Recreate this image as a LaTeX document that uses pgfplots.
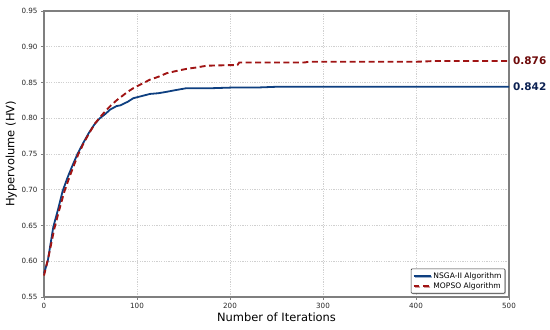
\documentclass[border=0pt]{standalone}
\usepackage{pgfplots}
\pgfplotsset{compat=1.18}
\usepackage{fontspec}
\setmainfont{DejaVu Sans}
\usetikzlibrary{shadows}
\definecolor{nsga}{HTML}{0E3F80}
\definecolor{mopso}{HTML}{A01414}
\definecolor{lblred}{HTML}{6E0A0A}
\definecolor{lblblue}{HTML}{0C2152}
\definecolor{frame}{HTML}{7F7F7F}
\definecolor{gridc}{HTML}{D0D0D0}
\begin{document}
\begin{tikzpicture}
\begin{axis}[
  name=ax,
  scale only axis,
  width=465bp, height=286bp,
  xmin=0, xmax=500, ymin=0.55, ymax=0.95,
  xtick={0,100,200,300,400,500},
  ytick={0.55,0.60,0.65,0.70,0.75,0.80,0.85,0.90,0.95},
  yticklabel style={/pgf/number format/.cd, fixed, fixed zerofill, precision=2},
  /pgf/number format/assume math mode=true,
  ticklabel style={font=\fontsize{7.2}{8}\selectfont, text=black!85},
  grid=major,
  major grid style={gridc, dash pattern=on 1.2pt off 1.2pt, line width=0.5pt},
  axis line style={frame, line width=1.5pt},
  tick style={frame, line width=0.8pt},
  tick align=outside, major tick length=3bp,
  xtick pos=bottom, ytick pos=left,
  xlabel={Number of Iterations},
  ylabel={Hypervolume (HV)},
  label style={font=\fontsize{11.5}{13}\selectfont},
  xlabel style={yshift=3bp},
  ylabel style={yshift=-2bp},
  clip=false,
  legend style={font=\fontsize{7.6}{9}\selectfont, draw=black!80, line width=0.6pt, rounded corners=1pt, drop shadow={shadow xshift=1pt, shadow yshift=-1pt, opacity=0.4}, fill=white, at={(0.992,0.012)}, anchor=south east, inner sep=1.5pt, row sep=-1pt},
  legend cell align=left,
]
\addplot[nsga, line width=1.8pt] coordinates {
(0,0.583) (4,0.600) (10,0.648) (15,0.672) (20,0.698) (25,0.716) (30,0.732) (36,0.750)
(42,0.765) (48,0.779) (54,0.791) (60,0.800) (66,0.806) (71,0.812) (78,0.817) (82,0.818)
(90,0.823) (96,0.828) (105,0.831) (114,0.834) (123,0.835) (132,0.837) (140,0.839)
(153,0.842) (180,0.842) (204,0.843) (230,0.843) (250,0.844) (500,0.844)
};
\addlegendentry{NSGA-II Algorithm}
\addplot[mopso, line width=1.9pt, dash pattern=on 6pt off 3.5pt] coordinates {
(0,0.580) (5,0.607) (11,0.645) (16,0.670) (22,0.698) (28,0.720) (33,0.737) (37,0.750)
(43,0.766) (49,0.780) (55,0.793) (60,0.801) (66,0.810) (72,0.818) (78,0.825) (84,0.831)
(90,0.837) (96,0.842) (105,0.848) (114,0.854) (123,0.858) (132,0.863) (142,0.866)
(153,0.869) (164,0.871) (175,0.8735) (190,0.874) (208,0.8745) (210,0.878) (280,0.878)
(285,0.879) (400,0.879) (420,0.880) (500,0.880)
};
\addlegendentry{MOPSO Algorithm}
\node[anchor=west, text=lblred, font=\bfseries\fontsize{10.5}{12}\selectfont, inner sep=0pt] at (axis cs:500,0.880) [xshift=4bp] {0.876};
\node[anchor=west, text=lblblue, font=\bfseries\fontsize{10.5}{12}\selectfont, inner sep=0pt] at (axis cs:500,0.8445) [xshift=4bp] {0.842};
\end{axis}
\pgfresetboundingbox
\path[use as bounding box] ([shift={(-44bp,-33bp)}]ax.south west) rectangle ([shift={(41bp,11bp)}]ax.north east);
\end{tikzpicture}
\end{document}
